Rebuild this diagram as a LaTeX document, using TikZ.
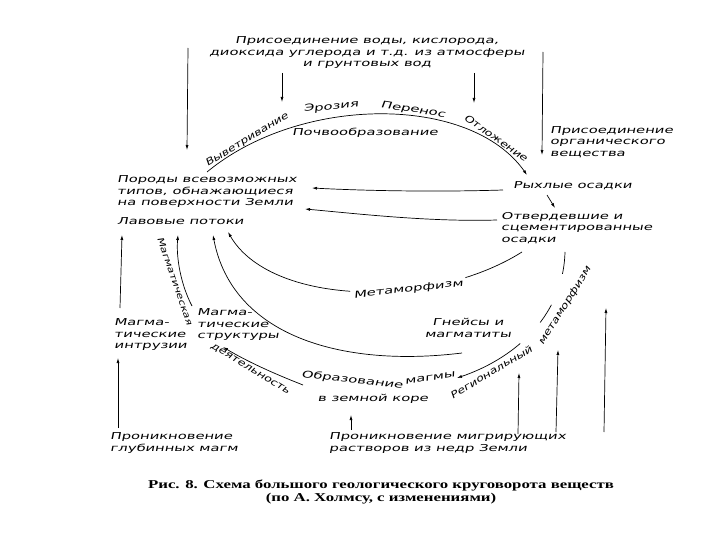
\documentclass[tikz,border=0pt]{standalone}
\usepackage{fontspec}
\usetikzlibrary{arrows.meta, positioning}
\newfontfamily\drawfont[FakeStretch=1.55, FakeSlant=0.2]{DejaVu Sans}
\newfontfamily\tagfont[FakeStretch=1.3, FakeSlant=0.2]{DejaVu Sans}
\newfontfamily\capfont[FakeStretch=1.4]{Liberation Serif}

\tikzset{
  lbl/.style={font=\drawfont\fontsize{9.5}{11.5}\selectfont, inner sep=0pt},
  tag/.style={font=\tagfont\fontsize{9.5}{11}\selectfont, inner sep=0pt},
  flow/.style={-{Latex[length=5pt, width=3pt]}, line width=0.7pt},
}

\begin{document}
\begin{tikzpicture}[x=1pt, y=-1pt]
  \useasboundingbox (0,0) rectangle (720,540);

  % inputs and states
  \node[lbl, align=center] (atmo) at (367,53) {Присоединение воды, кислорода,\\диоксида углерода и т.д. из атмосферы\\и грунтовых вод};
  \node[lbl, align=left, anchor=west] (organic) at (550,142) {Присоединение\\органического\\вещества};
  \node[lbl, align=left, anchor=west] (rocks) at (117,192) {Породы всевозможных\\типов, обнажающиеся\\на поверхности Земли};
  \node[lbl, anchor=west] (lava) at (117,221) {Лавовые потоки};
  \node[lbl, anchor=west] (loose) at (513,186) {Рыхлые осадки};
  \node[lbl, align=left, anchor=west] (solid) at (501,228) {Отвердевшие и\\сцементированные\\осадки};
  \node[lbl, align=left, anchor=west] (intr) at (114,335) {Магма-\\тические\\интрузии};
  \node[lbl, align=left, anchor=west] (struct) at (197,325) {Магма-\\тические\\структуры};
  \node[lbl, align=center] (gneiss) at (468,328) {Гнейсы и\\магматиты};
  \node[lbl, rotate=-6] (form) at (352,380) {Образование};
  \node[lbl, rotate=9] (magma) at (430,378) {магмы};
  \node[lbl] (crust) at (373,399) {в земной коре};
  \node[lbl, align=left, anchor=west] (deep) at (110,443) {Проникновение\\глубинных магм};
  \node[lbl, align=left, anchor=west] (fluids) at (329,443) {Проникновение мигрирующих\\растворов из недр Земли};

  % process labels
  \node[tag, rotate=31] (weath) at (247,140) {Выветривание};
  \node[lbl, rotate=5] (eros) at (331,107) {Эрозия};
  \node[lbl, rotate=-9] (trans) at (413,110) {Перенос};
  \node[tag, rotate=-35] (depos) at (496,138) {Отложение};
  \node[lbl] (soil) at (365,133) {Почвообразование};
  \node[tag, font=\tagfont\fontsize{8.7}{10}\selectfont, rotate=-71] (magact) at (175,281) {Магматическая};
  \node[tag, rotate=-31] (activ) at (250,369) {деятельность};
  \node[tag, rotate=31] (regmet) at (491,372) {Региональный};
  \node[tag, rotate=58] (regmet2) at (565,306) {метаморфизм};

  \node[font=\capfont\bfseries\fontsize{12}{12.5}\selectfont, align=center] (caption) at (381,492)
    {Рис. 8. Схема большого геологического круговорота веществ\\(по А. Холмсу, с изменениями)};

  % arrows from above
  \coordinate (inL) at (188,48);
  \coordinate (inR) at (543,52);
  \draw[flow] (inL) -- ([shift={(70pt,42pt)}]rocks.west);
  \draw[flow] (inR) -- ([shift={(-8pt,-13pt)}]organic.west);
  \draw[flow] ([shift={(-85pt,-20pt)}]atmo.center) -- ++(0,29);
  \draw[flow] ([shift={(107pt,-20pt)}]atmo.center) -- ++(0,30);

  % surface cycle
  \draw[flow] ([shift={(90pt,20pt)}]rocks.west) .. controls (300,95) and (470,94) .. ([shift={(14pt,11pt)}]loose.west);
  \draw[flow] ([shift={(-10pt,-4pt)}]loose.west) .. controls (440,192) and (370,191) .. ([shift={(195pt,4pt)}]rocks.west);
  \draw[flow] ([shift={(-4pt,8pt)}]solid.west) .. controls (430,222) and (360,214) .. ([shift={(188pt,-17pt)}]rocks.west);
  \draw[flow] ([shift={(34pt,-9pt)}]loose.west) -- ([shift={(54pt,20pt)}]solid.west);

  % deep cycle
  \draw[flow] ([shift={(21pt,-24pt)}]solid.west) .. controls (430,310) and (270,305) .. ([shift={(111pt,-11pt)}]lava.west)
    node[lbl, pos=0.35, sloped, fill=white, inner sep=3pt] (metam) {Метаморфизм};
  \draw[flow] ([shift={(-6pt,-25pt)}]gneiss.center) .. controls (340,368) and (232,335) .. ([shift={(96pt,-14pt)}]lava.west);
  \draw[flow] ([shift={(-5pt,19pt)}]struct.west) .. controls (181,285) and (176,258) .. ([shift={(61pt,-14pt)}]lava.west);
  \draw[flow] ([shift={(6pt,27pt)}]intr.west) -- ([shift={(5pt,-14pt)}]lava.west);
  \draw[flow] ([shift={(8pt,15pt)}]deep.west) -- ([shift={(4pt,-23pt)}]intr.west);
  \draw[flow] ([shift={(-49pt,-5pt)}]form.center) .. controls (275,374) and (248,362) .. ([shift={(26pt,-22pt)}]struct.west);
  \draw[flow] ([shift={(22pt,13pt)}]fluids.west) -- ([shift={(-22pt,-16pt)}]crust.center);
  \draw[flow, dash pattern=on 22pt off 33pt on 21pt off 29pt on 90pt] ([shift={(64pt,-24pt)}]solid.west) .. controls (563,320) and (510,360) .. ([xshift=27pt]magma.center);

  % heat from below
  \coordinate (r1b) at (518,434); \coordinate (r1t) at (519,373);
  \coordinate (r2b) at (556,432); \coordinate (r2t) at (558,350);
  \coordinate (r3b) at (604,432); \coordinate (r3t) at (606,308);
  \draw[flow] (r1b) -- (r1t);
  \draw[flow] (r2b) -- (r2t);
  \draw[flow] (r3b) -- (r3t);
\end{tikzpicture}
\end{document}
